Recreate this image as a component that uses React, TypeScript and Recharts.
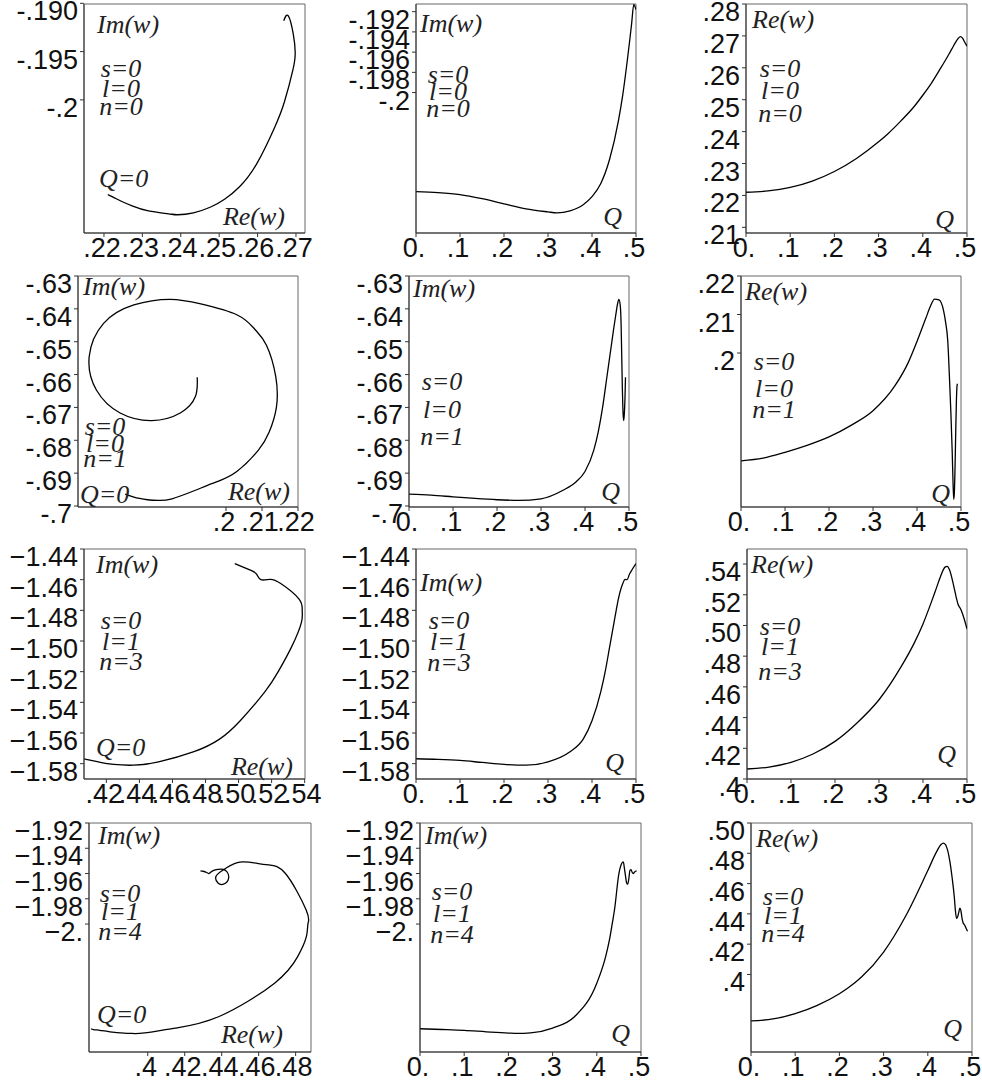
import React from "react";
import { LineChart, Line, XAxis, YAxis, ReferenceArea } from "recharts";

// s=0, l=0, n=0
const q1 = [0, 0.05, 0.1, 0.15, 0.2, 0.25, 0.3, 0.32, 0.35, 0.38, 0.4, 0.42, 0.44, 0.46, 0.47, 0.48, 0.485, 0.49, 0.495, 0.5];
const re1 = [0.221, 0.2214, 0.2225, 0.2245, 0.2275, 0.2316, 0.2368, 0.2392, 0.2433, 0.2478, 0.2514, 0.2553, 0.2598, 0.2645, 0.267, 0.2692, 0.2698, 0.2693, 0.268, 0.2668];
const im1 = [-0.2098, -0.2099, -0.2101, -0.2105, -0.211, -0.2115, -0.2118, -0.2119, -0.2117, -0.2111, -0.2103, -0.209, -0.2066, -0.2028, -0.2002, -0.1969, -0.1951, -0.1932, -0.1913, -0.1918];

// s=0, l=0, n=1
const q2 = [0, 0.05, 0.1, 0.15, 0.2, 0.25, 0.3, 0.35, 0.38, 0.4, 0.42, 0.43, 0.44, 0.45, 0.46, 0.465, 0.47, 0.474, 0.477, 0.48, 0.482, 0.4835, 0.485, 0.4865, 0.488, 0.4895, 0.491, 0.492];
const re2 = [0.172, 0.1727, 0.1742, 0.176, 0.1782, 0.1812, 0.185, 0.1915, 0.1975, 0.203, 0.209, 0.212, 0.214, 0.2138, 0.2112, 0.208, 0.203, 0.193, 0.1845, 0.1744, 0.166, 0.162, 0.164, 0.1706, 0.1794, 0.1873, 0.1915, 0.192];
const im2 = [-0.6964, -0.6967, -0.6972, -0.6977, -0.6981, -0.6983, -0.6978, -0.6952, -0.6926, -0.6895, -0.683, -0.6775, -0.67, -0.6605, -0.651, -0.6462, -0.6418, -0.6385, -0.6371, -0.6388, -0.6444, -0.6545, -0.6647, -0.6717, -0.674, -0.6717, -0.6667, -0.6608];

// s=0, l=1, n=3
const q3 = [0, 0.05, 0.1, 0.15, 0.2, 0.25, 0.3, 0.35, 0.38, 0.4, 0.42, 0.43, 0.44, 0.45, 0.455, 0.46, 0.47, 0.475, 0.48, 0.485, 0.49, 0.5];
const re3 = [0.4065, 0.4078, 0.4109, 0.4163, 0.4245, 0.4365, 0.4516, 0.473, 0.4885, 0.501, 0.516, 0.524, 0.532, 0.538, 0.5385, 0.5365, 0.5255, 0.519, 0.5135, 0.511, 0.5075, 0.4977];
const im3 = [-1.5768, -1.5772, -1.5779, -1.5792, -1.5805, -1.581, -1.5788, -1.5722, -1.564, -1.552, -1.533, -1.52, -1.504, -1.488, -1.48, -1.4725, -1.4625, -1.4598, -1.46, -1.4565, -1.454, -1.4496];

// s=0, l=1, n=4
const q4 = [0, 0.05, 0.1, 0.15, 0.2, 0.22, 0.25, 0.3, 0.35, 0.4, 0.42, 0.43, 0.435, 0.44, 0.45, 0.455, 0.46, 0.4625, 0.465, 0.4675, 0.47, 0.4725, 0.475, 0.4775, 0.48, 0.4825, 0.485, 0.4875, 0.49];
const re4 = [0.3693, 0.3706, 0.3741, 0.3796, 0.3873, 0.3912, 0.3983, 0.4148, 0.4386, 0.4686, 0.4811, 0.4858, 0.4867, 0.4857, 0.4745, 0.464, 0.451, 0.442, 0.437, 0.438, 0.441, 0.4437, 0.442, 0.437, 0.434, 0.433, 0.4316, 0.43, 0.4285];
const im4 = [-2.0829, -2.0835, -2.0842, -2.0853, -2.0863, -2.0866, -2.0862, -2.0824, -2.0732, -2.0468, -2.0258, -2.01, -1.9995, -1.9889, -1.96, -1.953, -1.9508, -1.956, -1.962, -1.9675, -1.9684, -1.964, -1.9575, -1.957, -1.959, -1.96, -1.959, -1.9582, -1.9579];

// tick values and labels
const qTicks = [0, 0.1, 0.2, 0.3, 0.4, 0.5];
const qLabels = ["0.", ".1", ".2", ".3", ".4", ".5"];

const re1Ticks = [0.22, 0.23, 0.24, 0.25, 0.26, 0.27];
const re1Labels = [".22", ".23", ".24", ".25", ".26", ".27"];
const im1aTicks = [-0.2, -0.195, -0.19];
const im1aLabels = ["-.2", "-.195", "-.190"];
const im1bTicks = [-0.2, -0.198, -0.196, -0.194, -0.192];
const im1bLabels = ["-.2", "-.198", "-.196", "-.194", "-.192"];
const re1yTicks = [0.21, 0.22, 0.23, 0.24, 0.25, 0.26, 0.27, 0.28];
const re1yLabels = [".21", ".22", ".23", ".24", ".25", ".26", ".27", ".28"];

const re2Ticks = [0.2, 0.21, 0.22];
const re2Labels = [".2", ".21", ".22"];
const im2Ticks = [-0.7, -0.69, -0.68, -0.67, -0.66, -0.65, -0.64, -0.63];
const im2Labels = ["-.7", "-.69", "-.68", "-.67", "-.66", "-.65", "-.64", "-.63"];

const re3Ticks = [0.42, 0.44, 0.46, 0.48, 0.5, 0.52, 0.54];
const re3Labels = [".42", ".44", ".46", ".48", ".50", ".52", ".54"];
const im3Ticks = [-1.58, -1.56, -1.54, -1.52, -1.5, -1.48, -1.46, -1.44];
const im3Labels = ["\u22121.58", "\u22121.56", "\u22121.54", "\u22121.52", "\u22121.50", "\u22121.48", "\u22121.46", "\u22121.44"];
const re3yTicks = [0.4, 0.42, 0.44, 0.46, 0.48, 0.5, 0.52, 0.54];
const re3yLabels = [".4", ".42", ".44", ".46", ".48", ".50", ".52", ".54"];

const re4Ticks = [0.4, 0.42, 0.44, 0.46, 0.48];
const re4Labels = [".4", ".42", ".44", ".46", ".48"];
const im4Ticks = [-2, -1.98, -1.96, -1.94, -1.92];
const im4Labels = ["\u22122.", "\u22121.98", "\u22121.96", "\u22121.94", "\u22121.92"];
const re4yTicks = [0.4, 0.42, 0.44, 0.46, 0.48, 0.5];
const re4yLabels = [".4", ".42", ".44", ".46", ".48", ".50"];

type Row = { q: number; re: number; im: number };
const table = (q: number[], re: number[], im: number[]): Row[] =>
  q.map((v, i) => ({ q: v, re: re[i], im: im[i] }));

const rows = [table(q1, re1, im1), table(q2, re2, im2), table(q3, re3, im3), table(q4, re4, im4)];

const TICK_FONT = "'Liberation Sans', Arial, Helvetica, sans-serif";
const NOTE_FONT = "'Liberation Serif', 'Times New Roman', serif";

const ML = 80;
const MT = 14;
const MR = 26;
const MB = 34;

type Note = { text: string; x: number; y: number; anchor?: "start" | "middle" | "end" };
type Spec = {
  box: { x: number; y: number; w: number; h: number };
  data: Row[];
  xKey: "q" | "re";
  yKey: "im" | "re";
  xDomain: [number, number];
  yDomain: [number, number];
  xTicks: number[];
  xLabels: string[];
  yTicks: number[];
  yLabels: string[];
  curve: "natural" | "monotoneX";
  notes: Note[];
};

// the s / l / n block, centred
const sln = (cx: number, ys: number[], s: string, l: string, n: string): Note[] => [
  { text: `s=${s}`, x: cx, y: ys[0], anchor: "middle" },
  { text: `l=${l}`, x: cx, y: ys[1], anchor: "middle" },
  { text: `n=${n}`, x: cx, y: ys[2], anchor: "middle" },
];

const specs: Spec[] = [
  {
    box: { x: 84, y: 4, w: 221, h: 229 }, data: rows[0], xKey: "re", yKey: "im",
    xDomain: [0.2148, 0.27235], yDomain: [-0.21379, -0.19007],
    xTicks: re1Ticks, xLabels: re1Labels, yTicks: im1aTicks, yLabels: im1aLabels, curve: "natural",
    notes: [{ text: "Im(w)", x: 13, y: 29 }, ...sln(37, [73, 93, 111], "0", "0", "0"), { text: "Q=0", x: 15, y: 183 }, { text: "Re(w)", x: 201, y: 221, anchor: "end" }],
  },
  {
    box: { x: 416, y: 4, w: 220, h: 229 }, data: rows[0], xKey: "q", yKey: "im",
    xDomain: [0, 0.5], yDomain: [-0.21389, -0.19124],
    xTicks: qTicks, xLabels: qLabels, yTicks: im1bTicks, yLabels: im1bLabels, curve: "monotoneX",
    notes: [{ text: "Im(w)", x: 4, y: 28 }, ...sln(32, [79, 96, 113], "0", "0", "0"), { text: "Q", x: 206, y: 221, anchor: "end" }],
  },
  {
    box: { x: 746, y: 4, w: 221, h: 229 }, data: rows[0], xKey: "q", yKey: "re",
    xDomain: [0, 0.5], yDomain: [0.20823, 0.28],
    xTicks: qTicks, xLabels: qLabels, yTicks: re1yTicks, yLabels: re1yLabels, curve: "monotoneX",
    notes: [{ text: "Re(w)", x: 6, y: 24 }, ...sln(34, [73, 95, 118], "0", "0", "0"), { text: "Q", x: 208, y: 224, anchor: "end" }],
  },
  {
    box: { x: 78, y: 276, w: 220, h: 231 }, data: rows[1], xKey: "re", yKey: "im",
    xDomain: [0.15889, 0.22], yDomain: [-0.7003, -0.63],
    xTicks: re2Ticks, xLabels: re2Labels, yTicks: im2Ticks, yLabels: im2Labels, curve: "natural",
    notes: [{ text: "Im(w)", x: 5, y: 19 }, ...sln(27, [159, 176, 191], "0", "0", "1"), { text: "Q=0", x: 2, y: 227 }, { text: "Re(w)", x: 212, y: 224, anchor: "end" }],
  },
  {
    box: { x: 409, y: 276, w: 220, h: 231 }, data: rows[1], xKey: "q", yKey: "im",
    xDomain: [0, 0.5], yDomain: [-0.7003, -0.63],
    xTicks: qTicks, xLabels: qLabels, yTicks: im2Ticks, yLabels: im2Labels, curve: "monotoneX",
    notes: [{ text: "Im(w)", x: 4, y: 21 }, ...sln(33, [114, 142, 169], "0", "0", "1"), { text: "Q", x: 211, y: 224, anchor: "end" }],
  },
  {
    box: { x: 741, y: 276, w: 220, h: 231 }, data: rows[1], xKey: "q", yKey: "re",
    xDomain: [0, 0.5], yDomain: [0.16, 0.22],
    xTicks: qTicks, xLabels: qLabels, yTicks: re2Ticks, yLabels: re2Labels, curve: "monotoneX",
    notes: [{ text: "Re(w)", x: 4, y: 24 }, ...sln(33, [94, 121, 142], "0", "0", "1"), { text: "Q", x: 209, y: 226, anchor: "end" }],
  },
  {
    box: { x: 84, y: 549, w: 221, h: 230 }, data: rows[2], xKey: "re", yKey: "im",
    xDomain: [0.40646, 0.5402], yDomain: [-1.59, -1.44],
    xTicks: re3Ticks, xLabels: re3Labels, yTicks: im3Ticks, yLabels: im3Labels, curve: "natural",
    notes: [{ text: "Im(w)", x: 12, y: 24 }, ...sln(37, [80, 101, 121], "0", "1", "3"), { text: "Q=0", x: 12, y: 207 }, { text: "Re(w)", x: 209, y: 226, anchor: "end" }],
  },
  {
    box: { x: 416, y: 549, w: 220, h: 230 }, data: rows[2], xKey: "q", yKey: "im",
    xDomain: [0, 0.5], yDomain: [-1.59, -1.44],
    xTicks: qTicks, xLabels: qLabels, yTicks: im3Ticks, yLabels: im3Labels, curve: "monotoneX",
    notes: [{ text: "Im(w)", x: 4, y: 42 }, ...sln(33, [80, 101, 122], "0", "1", "3"), { text: "Q", x: 208, y: 222, anchor: "end" }],
  },
  {
    box: { x: 747, y: 549, w: 220, h: 230 }, data: rows[2], xKey: "q", yKey: "re",
    xDomain: [0, 0.5], yDomain: [0.4, 0.5498],
    xTicks: qTicks, xLabels: qLabels, yTicks: re3yTicks, yLabels: re3yLabels, curve: "monotoneX",
    notes: [{ text: "Re(w)", x: 4, y: 24 }, ...sln(33, [86, 106, 131], "0", "1", "3"), { text: "Q", x: 209, y: 214, anchor: "end" }],
  },
  {
    box: { x: 89, y: 823, w: 222, h: 229 }, data: rows[3], xKey: "re", yKey: "im",
    xDomain: [0.36822, 0.48831], yDomain: [-2.1013, -1.92],
    xTicks: re4Ticks, xLabels: re4Labels, yTicks: im4Ticks, yLabels: im4Labels, curve: "natural",
    notes: [{ text: "Im(w)", x: 9, y: 21 }, ...sln(31, [79, 97, 117], "0", "1", "4"), { text: "Q=0", x: 8, y: 200 }, { text: "Re(w)", x: 194, y: 220, anchor: "end" }],
  },
  {
    box: { x: 420, y: 823, w: 221, h: 229 }, data: rows[3], xKey: "q", yKey: "im",
    xDomain: [0, 0.5], yDomain: [-2.1013, -1.92],
    xTicks: qTicks, xLabels: qLabels, yTicks: im4Ticks, yLabels: im4Labels, curve: "monotoneX",
    notes: [{ text: "Im(w)", x: 5, y: 21 }, ...sln(32, [77, 99, 120], "0", "1", "4"), { text: "Q", x: 210, y: 219, anchor: "end" }],
  },
  {
    box: { x: 751, y: 823, w: 221, h: 229 }, data: rows[3], xKey: "q", yKey: "re",
    xDomain: [0, 0.5], yDomain: [0.3488, 0.5],
    xTicks: qTicks, xLabels: qLabels, yTicks: re4yTicks, yLabels: re4yLabels, curve: "monotoneX",
    notes: [{ text: "Re(w)", x: 5, y: 24 }, ...sln(32, [82, 101, 119], "0", "1", "4"), { text: "Q", x: 211, y: 214, anchor: "end" }],
  },
];

const xTick = (values: number[], labels: string[]) => (props: any) => {
  const { x, y, payload } = props;
  const label = labels[values.indexOf(payload.value)] ?? "";
  return (
    <text x={x - 2} y={y + 18} textAnchor="middle" fontSize={27} fontFamily={TICK_FONT} fill="#111">
      {label}
    </text>
  );
};

const yTick = (values: number[], labels: string[]) => (props: any) => {
  const { x, y, payload } = props;
  const label = labels[values.indexOf(payload.value)] ?? "";
  return (
    <text x={x} y={y + 17} textAnchor="end" fontSize={27} fontFamily={TICK_FONT} fill="#111">
      {label}
    </text>
  );
};

function Panel({ spec }: { spec: Spec }) {
  const { box } = spec;
  const W = box.w + ML + MR;
  const H = box.h + MT + MB;
  return (
    <div style={{ position: "absolute", left: box.x - ML, top: box.y - MT, width: W, height: H }}>
      <LineChart width={W} height={H} data={spec.data} margin={{ top: MT, right: MR, bottom: 0, left: 0 }}>
        <ReferenceArea
          x1={spec.xDomain[0]} x2={spec.xDomain[1]} y1={spec.yDomain[0]} y2={spec.yDomain[1]}
          fill="none" stroke="#666" strokeWidth={1}
        />
        <XAxis
          dataKey={spec.xKey} type="number" domain={spec.xDomain} allowDataOverflow
          ticks={spec.xTicks} interval={0} height={MB} tickSize={4} tickMargin={2}
          stroke="#333" tick={xTick(spec.xTicks, spec.xLabels)}
        />
        <YAxis
          type="number" domain={spec.yDomain} allowDataOverflow
          ticks={spec.yTicks} interval={0} width={ML} tickSize={4} tickMargin={2}
          stroke="#333" tick={yTick(spec.yTicks, spec.yLabels)}
        />
        <Line
          dataKey={spec.yKey} type={spec.curve} dot={false} stroke="#000"
          strokeWidth={1.3} isAnimationActive={false}
        />
      </LineChart>
      <svg
        width={box.w} height={box.h}
        style={{ position: "absolute", left: ML, top: MT, overflow: "visible", pointerEvents: "none" }}
      >
        {spec.notes.map((n, i) => (
          <text
            key={i} x={n.x} y={n.y} textAnchor={n.anchor ?? "start"}
            fontFamily={NOTE_FONT} fontStyle="italic" fontSize={26} fill="#222"
          >
            {n.text}
          </text>
        ))}
      </svg>
    </div>
  );
}

export default function App() {
  return (
    <div style={{ position: "absolute", left: 0, top: 0, width: 982, height: 1084, background: "#fff" }}>
      {specs.map((s, i) => (
        <Panel key={i} spec={s} />
      ))}
    </div>
  );
}
